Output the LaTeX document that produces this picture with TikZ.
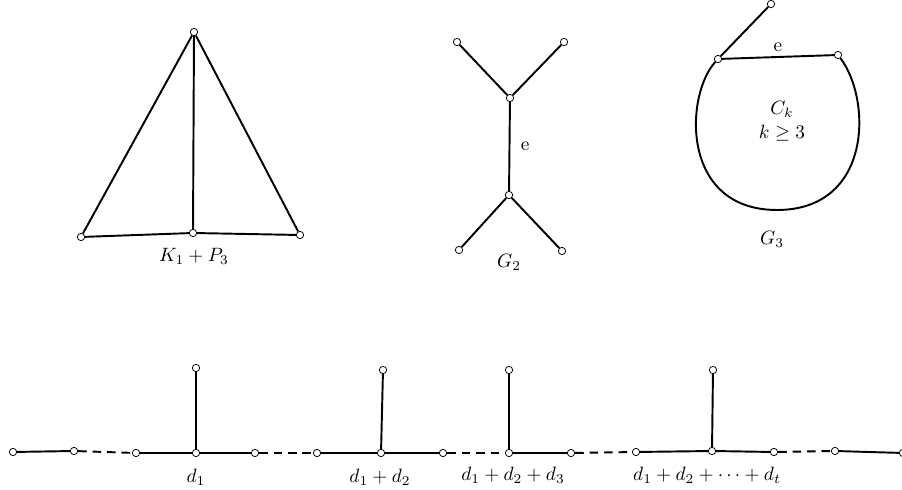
\documentclass[tikz,border=0pt]{standalone}
\usepackage{amsmath}
\begin{document}
\begin{tikzpicture}[
    x=0.0182cm, y=-0.0182cm,
    vertex/.style={circle, draw, fill=white, minimum size=3.8pt, inner sep=0pt, line width=0.4pt},
    edge/.style={line width=1pt},
    gap/.style={line width=1pt, dash pattern=on 4.5pt off 3pt},
]
\useasboundingbox (0, 0) rectangle (902, 490);

% K_1 + P_3
\node[vertex] (a0) at (194, 32) {};
\node[vertex] (a1) at (81, 237) {};
\node[vertex] (a2) at (193, 233) {};
\node[vertex] (a3) at (300, 235) {};
\draw[edge] (a0) -- (a1);
\draw[edge] (a0) -- (a2);
\draw[edge] (a0) -- (a3);
\draw[edge] (a1) -- (a2) -- (a3);
\node (la) at (194, 256) {$K_1+P_3$};

% G_2
\node[vertex] (b1) at (457, 42) {};
\node[vertex] (b2) at (564, 42) {};
\node[vertex] (b3) at (510, 98) {};
\node[vertex] (b4) at (509, 195) {};
\node[vertex] (b5) at (459, 250) {};
\node[vertex] (b6) at (562, 251) {};
\draw[edge] (b1) -- (b3) -- (b2);
\draw[edge] (b3) -- node[right=2pt] {e} (b4);
\draw[edge] (b5) -- (b4) -- (b6);
\node (lb) at (509, 262) {$G_2$};

% G_3
\node[vertex] (c0) at (771, 4) {};
\node[vertex] (c1) at (718, 59) {};
\node[vertex] (c2) at (838, 55) {};
\draw[edge] (c0) -- (c1);
\draw[edge] (c1) -- node[above=-1pt] {e} (c2);
\draw[edge] (c1) .. controls (685, 95) and (680, 210) .. (777, 210)
                 .. controls (872, 210) and (872, 100) .. (c2);
\node[align=center, inner sep=0pt] (ck) at (782, 121) {$C_k$\\[0.5pt]$k\geq 3$};
\node (lc) at (772, 239) {$G_3$};

% Long path with pendant vertices
\node[vertex] (p1) at (13, 452) {};
\node[vertex] (p2) at (74, 451) {};
\node[vertex] (p3) at (136, 453) {};
\node[vertex] (p4) at (196, 453) {};
\node[vertex] (p5) at (255, 453) {};
\node[vertex] (p6) at (317, 453) {};
\node[vertex] (p7) at (381, 453) {};
\node[vertex] (p8) at (443, 453) {};
\node[vertex] (p9) at (509, 453) {};
\node[vertex] (p10) at (571, 453) {};
\node[vertex] (p11) at (636, 452) {};
\node[vertex] (p12) at (712, 451) {};
\node[vertex] (p13) at (774, 452) {};
\node[vertex] (p14) at (835, 451) {};
\node[vertex] (p15) at (903, 453) {};
\node[vertex] (q4) at (196, 368) {};
\node[vertex] (q7) at (383, 370) {};
\node[vertex] (q9) at (509, 370) {};
\node[vertex] (q12) at (713, 370) {};

\draw[edge] (p1) -- (p2);
\draw[gap] (p2) -- (p3);
\draw[edge] (p3) -- (p4) -- (p5);
\draw[gap] (p5) -- (p6);
\draw[edge] (p6) -- (p7) -- (p8);
\draw[gap] (p8) -- (p9);
\draw[edge] (p9) -- (p10);
\draw[gap] (p10) -- (p11);
\draw[edge] (p11) -- (p12) -- (p13);
\draw[gap] (p13) -- (p14);
\draw[edge] (p14) -- (p15);
\draw[edge] (p4) -- (q4);
\draw[edge] (p7) -- (q7);
\draw[edge] (p9) -- (q9);
\draw[edge] (p12) -- (q12);

% Labels
\node (d1) at (196, 477) {$d_1$};
\node (d2) at (380, 477) {$d_1+d_2$};
\node (d3) at (513, 475) {$d_1+d_2+d_3$};
\node (dt) at (707, 475) {$d_1+d_2+\cdots+d_t$};
\end{tikzpicture}
\end{document}
